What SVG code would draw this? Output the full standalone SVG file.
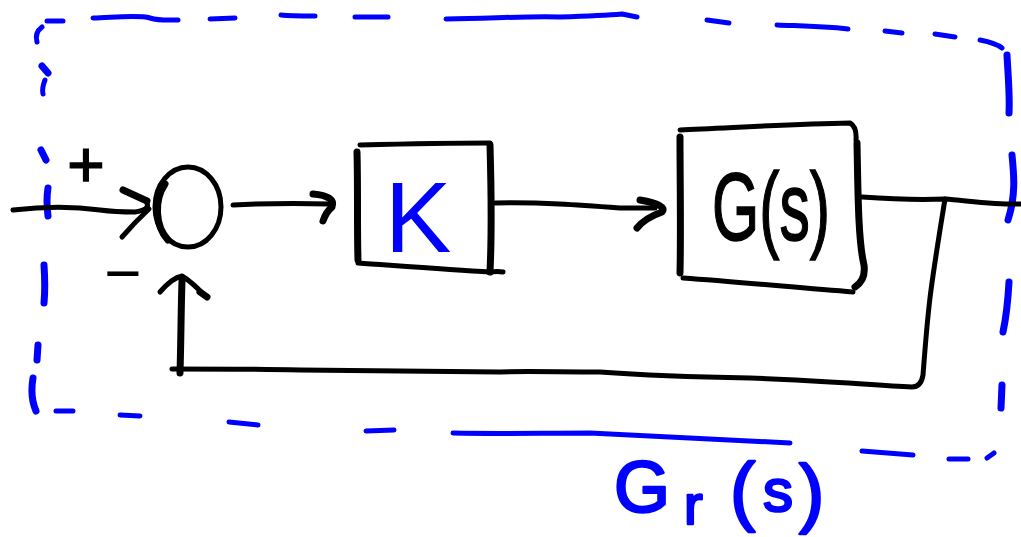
<svg xmlns="http://www.w3.org/2000/svg" width="1021" height="537" viewBox="0 0 1021 537">
<style>
.ink{fill:none;stroke:#000;stroke-width:5;stroke-linecap:round;stroke-linejoin:round}
.thick{stroke-width:7}
.blue{fill:none;stroke:#0000ff;stroke-width:5;stroke-linecap:round;stroke-linejoin:round}
.bt{stroke-width:7}
.lbl{font-family:"Liberation Sans",Arial,sans-serif}
</style>
<rect width="1021" height="537" fill="#fff"/>
<g id="boundary">
<path class="blue" d="M47,21 L63,21 M93,18 C120,17 140,15 150,18 C160,21 170,20 178,20 M210,19 L235,18 M281,15 C290,16 300,16 315,16 M355,17 L388,17 M446,19 C500,18 530,16 560,17 C590,16 610,15 622,14 L637,17 M707,20 L729,23 M777,25 C800,26 820,26 848,29 M885,31 L902,33 M935,34 L955,37 M980,40 C990,42 997,44 1002,48"/>
<path class="blue bt" d="M1007,55 C1008,75 1010,95 1009,113 M1012,155 C1014,175 1016,195 1008,220 M1009,282 C1008,300 1006,318 1003,332 M1002,385 L1001,408"/>
<path class="blue" d="M37,42 C35,35 38,30 42,27 M45,80 C43,85 42,90 43,94"/>
<path class="blue bt" d="M42,66 L48,73 M41,150 L46,160 M48,188 C46,200 47,208 48,216 M44,265 C45,280 45,292 44,303 M38,345 L37,360 M33,378 C31,390 32,402 36,411"/>
<path class="blue" d="M56,411 L73,411 M120,415 L140,416 M229,422 L258,425 M366,431 L394,430 M453,433 C500,434 540,433 590,433 C640,436 700,438 790,443 M862,451 L913,455 M949,459 L968,459 M987,458 L994,453"/>
</g>
<g id="connectors">
<path class="ink" d="M13,210 C40,207 70,206 100,210 C115,212 125,212 135,212 Q150,210 147,203"/>
<path class="ink thick" d="M123,190 L147,201"/>
<path class="ink" d="M149,209 Q135,222 122,237"/>
<path class="ink" d="M233,205 C270,203 300,203 330,204"/>
<path class="ink thick" d="M313,194 Q336,196 332,207 Q326,212 323,221"/>
<path class="ink" d="M495,203 C540,202 580,205 620,208 L655,208"/>
<path class="ink thick" d="M640,200 Q668,205 662,212 Q645,218 637,228"/>
<path class="ink" d="M862,197 C890,199 920,200 945,199 C970,201 1000,205 1021,204"/>
<path class="ink" d="M945,199 C940,230 935,260 931,290 C927,320 925,350 923,375 Q921,387 912,387 C870,385 820,380 750,378 C690,377 640,375 600,372 C560,372 520,371 500,372 C420,371 360,370 300,370 C250,369 210,369 172,369"/>
<path class="ink thick" d="M180,373 C181,340 181,310 182,281"/>
<path class="ink" d="M160,292 Q172,278 182,276 Q192,282 204,295"/>
<path class="ink thick" d="M200,292 L207,297"/>
</g>
<g id="sum">
<ellipse class="ink" cx="188" cy="207" rx="33" ry="40" stroke-width="6"/>
<path class="ink thick" d="M165,184 C154,200 155,226 168,240"/>
<text class="lbl" x="86" y="187" font-size="64" text-anchor="middle" stroke="#000" stroke-width="1.5">+</text>
<text class="lbl" x="123" y="295" font-size="64" text-anchor="middle">−</text>
</g>
<g id="K">
<path class="ink" d="M360,145 C400,144 450,143 490,143"/>
<path class="ink thick" d="M357,152 C358,190 357,230 358,260"/>
<path class="ink thick" d="M490,145 C491,180 492,230 490,272"/>
<path class="ink" d="M358,263 C400,266 450,270 490,272 Q498,271 503,272"/>
<text class="lbl" x="418" y="252" font-size="100" text-anchor="middle" fill="#0000ff">K</text>
</g>
<g id="G">
<path class="ink" d="M680,130 C730,128 790,124 850,123 Q857,127 856,140"/>
<path class="ink thick" d="M680,137 C680,180 681,230 680,273"/>
<path class="ink thick" d="M857,143 C858,190 858,240 864,265 Q866,280 855,287"/>
<path class="ink" d="M683,278 C740,282 800,288 853,292"/>
<text class="lbl" x="712" y="240" font-size="96" textLength="118" lengthAdjust="spacingAndGlyphs" stroke="#000" stroke-width="1.5">G(s)</text>
</g>
<g id="Gr-label" class="lbl" fill="#0000ff" stroke="#0000ff" stroke-width="2.5" stroke-linejoin="round">
<text x="614" y="512" font-size="72">G</text>
<text x="684" y="524" font-size="56">r</text>
<text x="730" y="516" font-size="76">(</text>
<text x="763" y="511" font-size="60">s</text>
<text x="799" y="518" font-size="76">)</text>
</g>
</svg>
